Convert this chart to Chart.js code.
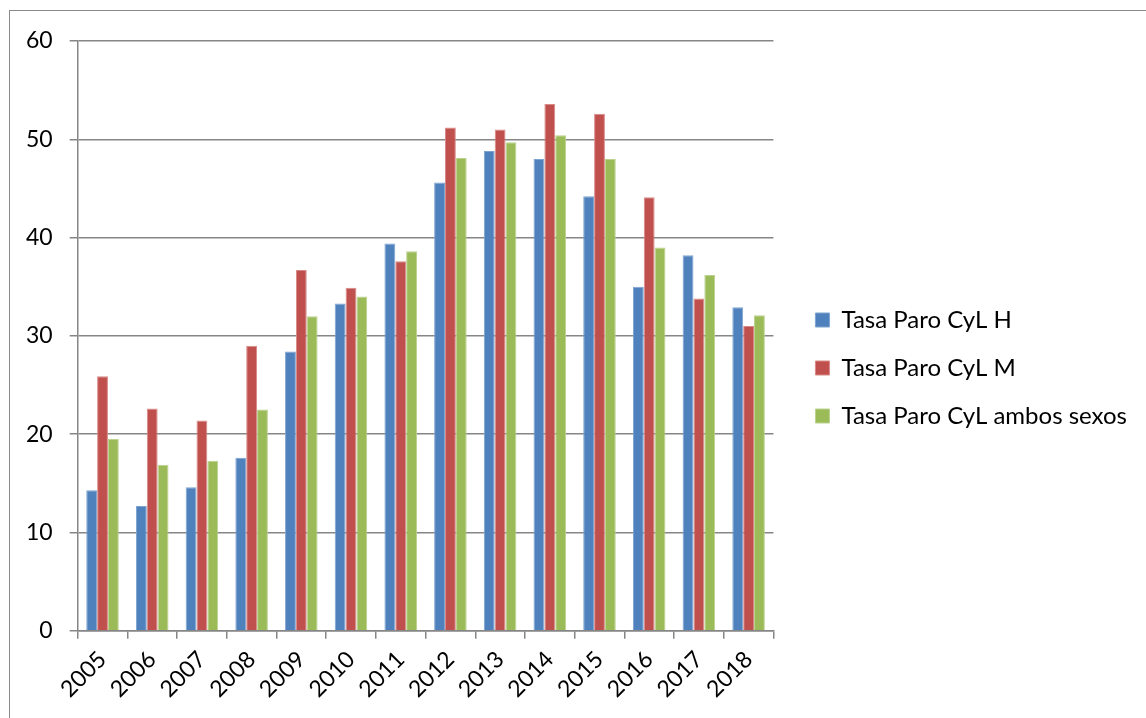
<!DOCTYPE html>
<html>
<head>
<meta charset="utf-8">
<script src="https://cdn.jsdelivr.net/npm/chart.js@4"></script>
<style>
html,body{margin:0;padding:0;background:#fff;overflow:hidden;}
#wrap{position:relative;width:1146px;height:718px;}
#frame{position:absolute;left:9px;top:10px;width:2000px;height:2000px;border-left:1px solid #8a8a8a;border-top:1px solid #8a8a8a;}
canvas{position:absolute;left:0;top:0;}
</style>
</head>
<body>
<div id="wrap">
<div id="frame"></div>
<canvas id="c" width="1146" height="718"></canvas>
</div>
<script>
const categories = ['2005','2006','2007','2008','2009','2010','2011','2012','2013','2014','2015','2016','2017','2018'];
const seriesH = [14.3,12.7,14.6,17.6,28.4,33.3,39.4,45.6,48.8,48.0,44.2,35.0,38.2,32.9];
const seriesM = [25.9,22.6,21.4,29.0,36.7,34.9,37.6,51.2,51.0,53.6,52.6,44.1,33.8,31.0];
const seriesAmbos = [19.5,16.9,17.3,22.5,32.0,34.0,38.6,48.1,49.7,50.4,48.0,39.0,36.2,32.1];
const seriesNames = ['Tasa Paro CyL H','Tasa Paro CyL M','Tasa Paro CyL ambos sexos'];
const yTicks = [0,10,20,30,40,50,60];

const FONT = 'Lato';
const FS = 23;
const gridColor = '#868686';

new Chart(document.getElementById('c'), {
  type: 'bar',
  data: {
    labels: categories,
    datasets: [
      {label: seriesNames[0], data: seriesH, backgroundColor: '#4F81BD', borderColor: '#7ea3cf', borderWidth: 1},
      {label: seriesNames[1], data: seriesM, backgroundColor: '#C0504D', borderColor: '#d88a88', borderWidth: 1},
      {label: seriesNames[2], data: seriesAmbos, backgroundColor: '#9BBB59', borderColor: '#bcd28f', borderWidth: 1}
    ]
  },
  options: {
    responsive: false,
    animation: false,
    devicePixelRatio: 1,
    layout: {padding: {left: 9, top: 41, right: 9, bottom: 8}},
    datasets: {bar: {categoryPercentage: 0.655, barPercentage: 1.0}},
    plugins: {
      tooltip: {enabled: false},
      legend: {
        position: 'right',
        align: 'start',
        maxWidth: 420,
        title: {display: true, text: '', font: {family: FONT, size: 10, lineHeight: 1}, padding: {top: 0, bottom: 233}},
        labels: {
          boxWidth: 14, boxHeight: 14, padding: 24,
          color: '#000',
          font: {family: FONT, size: 24}
        }
      }
    },
    scales: {
      x: {
        offset: true,
        grid: {display: true, drawOnChartArea: false, drawTicks: true, tickLength: 8, offset: true, color: gridColor, lineWidth: 1.5},
        border: {display: true, color: gridColor, width: 1.5},
        ticks: {color: '#000', font: {family: FONT, size: FS}, minRotation: 45, maxRotation: 45, padding: 7, autoSkip: false}
      },
      y: {
        min: 0, max: 60,
        afterBuildTicks: (s) => { s.ticks = yTicks.map(v => ({value: v})); },
        grid: {color: gridColor, lineWidth: 1.5, tickLength: 8},
        border: {display: true, color: gridColor, width: 1.5},
        ticks: {color: '#000', font: {family: FONT, size: FS}, padding: 17}
      },
      gap: {
        position: 'right',
        display: true,
        grid: {display: false},
        border: {display: false},
        ticks: {display: false},
        afterFit: (s) => { s.width = 18; }
      }
    }
  }
});
</script>
</body>
</html>
